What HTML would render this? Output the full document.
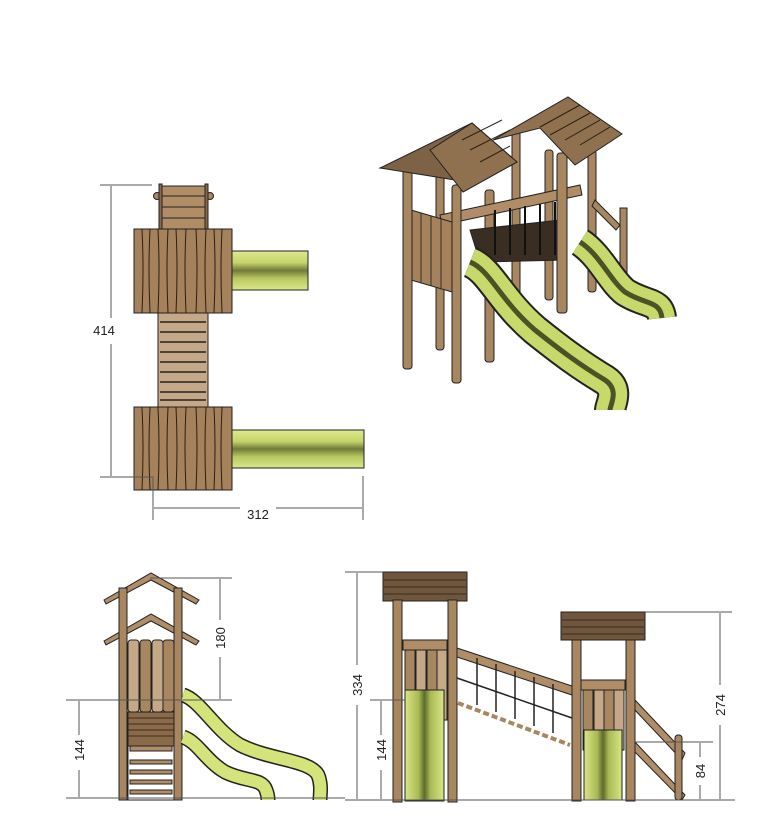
<!DOCTYPE html>
<html><head><meta charset="utf-8"><style>
html,body{margin:0;padding:0;background:#fff;}
svg{display:block;font-family:"Liberation Sans",sans-serif;}
</style></head><body>
<svg width="781" height="830" viewBox="0 0 781 830" xmlns="http://www.w3.org/2000/svg">
<defs>
<linearGradient id="sg" x1="0" y1="0" x2="0" y2="1">
<stop offset="0" stop-color="#dfe98f"/><stop offset="0.3" stop-color="#c4d46a"/><stop offset="0.5" stop-color="#6f7a3a"/><stop offset="0.7" stop-color="#b7c860"/><stop offset="1" stop-color="#dbe78a"/></linearGradient>
<linearGradient id="sv" x1="0" y1="0" x2="1" y2="0">
<stop offset="0" stop-color="#d8e684"/><stop offset="0.35" stop-color="#a9ba55"/><stop offset="0.5" stop-color="#5d6a2c"/><stop offset="0.65" stop-color="#a9ba55"/><stop offset="1" stop-color="#d8e684"/></linearGradient>
</defs>
<g stroke="#222" stroke-width="1">
<!-- ===== TOP VIEW ===== -->
<rect x="160" y="186" width="47" height="44" fill="#b08d66"/>
<line x1="160" y1="196" x2="207" y2="196"/><line x1="160" y1="207" x2="207" y2="207"/><line x1="160" y1="218" x2="207" y2="218"/>
<circle cx="157" cy="196" r="3.5" fill="#a88660"/><circle cx="210" cy="196" r="3.5" fill="#a88660"/>
<rect x="159" y="184" width="3" height="46" fill="#8a6a48"/><rect x="205" y="184" width="3" height="46" fill="#8a6a48"/>
<rect x="134" y="229" width="98" height="84" fill="#a5825c"/>
<rect x="232" y="251" width="76" height="39" fill="url(#sg)"/>
<rect x="158" y="313" width="50" height="94" fill="#c4a887"/>
<g stroke-width="1.5">
<line x1="160" y1="322" x2="206" y2="322"/><line x1="160" y1="332" x2="206" y2="332"/><line x1="160" y1="342" x2="206" y2="342"/><line x1="160" y1="352" x2="206" y2="352"/><line x1="160" y1="362" x2="206" y2="362"/><line x1="160" y1="372" x2="206" y2="372"/><line x1="160" y1="382" x2="206" y2="382"/><line x1="160" y1="392" x2="206" y2="392"/><line x1="160" y1="400" x2="206" y2="400"/>
</g>
<rect x="134" y="407" width="98" height="83" fill="#a5825c"/>
<rect x="232" y="430" width="132" height="38" fill="url(#sg)"/>
<g fill="none" stroke="#2a1f14">
<path d="M142 229 q2 40 0 84 M150 229 q-2 40 0 84 M158 229 q2 40 0 84 M168 229 q-2 40 0 84 M176 229 q2 40 0 84 M186 229 q-2 40 0 84 M196 229 q2 40 0 84 M206 229 q-2 40 0 84 M214 229 q2 40 0 84 M222 229 q-2 40 0 84"/>
<path d="M142 407 q2 40 0 83 M150 407 q-2 40 0 83 M158 407 q2 40 0 83 M168 407 q-2 40 0 83 M176 407 q2 40 0 83 M186 407 q-2 40 0 83 M196 407 q2 40 0 83 M206 407 q-2 40 0 83 M214 407 q2 40 0 83 M222 407 q-2 40 0 83"/>
</g>
</g>
<g stroke="#555" stroke-width="1" fill="none">
<line x1="100" y1="185" x2="152" y2="185"/><line x1="100" y1="477" x2="152" y2="477"/>
<line x1="111" y1="186" x2="111" y2="318"/><line x1="111" y1="344" x2="111" y2="476"/>
<line x1="153" y1="476" x2="153" y2="520"/><line x1="363" y1="476" x2="363" y2="520"/>
<line x1="154" y1="508" x2="240" y2="508"/><line x1="276" y1="508" x2="362" y2="508"/>
</g>
<text x="104" y="335" font-size="13" text-anchor="middle" fill="#222">414</text>
<text x="258" y="519" font-size="13" text-anchor="middle" fill="#222">312</text>

<!-- ===== ISO VIEW ===== -->
<g stroke="#222" stroke-width="1">
<!-- back posts -->
<rect x="436" y="175" width="8" height="175" rx="3" fill="#a88660"/>
<rect x="485" y="190" width="9" height="172" rx="3" fill="#a88660"/>
<rect x="512" y="130" width="8" height="170" rx="3" fill="#a88660"/>
<rect x="588" y="150" width="8" height="142" rx="3" fill="#a88660"/>
<rect x="545" y="150" width="8" height="150" rx="3" fill="#a88660"/>
<!-- rails / bridge -->
<polygon points="440,215 580,185 582,195 442,225" fill="#b08d66"/>
<polygon points="470,230 560,220 565,260 480,262" fill="#3a2e22"/>
<g stroke="#111" stroke-width="2"><line x1="495" y1="210" x2="495" y2="255"/><line x1="510" y1="208" x2="510" y2="255"/><line x1="525" y1="206" x2="525" y2="255"/><line x1="540" y1="204" x2="540" y2="255"/><line x1="555" y1="202" x2="555" y2="255"/></g>
<polygon points="595,200 620,225 616,230 592,206" fill="#a88660"/>
<rect x="620" y="208" width="7" height="70" fill="#a88660"/>
<!-- left panel -->
<polygon points="411,210 452,222 452,292 411,280" fill="#a5825c"/>
<g stroke="#3a2e22"><line x1="421" y1="213" x2="421" y2="283"/><line x1="431" y1="216" x2="431" y2="286"/><line x1="441" y1="219" x2="441" y2="289"/></g>
<!-- front posts -->
<rect x="403" y="162" width="9" height="207" rx="3" fill="#a88660"/>
<rect x="452" y="185" width="9" height="198" rx="3" fill="#a88660"/>
<rect x="557" y="153" width="10" height="160" rx="3" fill="#a88660"/>
<!-- roofs -->
<polygon points="380,168 472,123 517,162 463,192 455,180" fill="#7d6245"/>
<polygon points="472,123 517,162 463,192 430,150" fill="#8f7150"/>
<polygon points="493,140 568,97 622,134 575,165 540,128" fill="#8f7150"/>
<g stroke="#2a1f14" fill="none"><path d="M462 140 l40 -20 M470 150 l40 -20 M480 162 l30 -16 M580 105 l-40 22 M590 113 l-40 22 M600 120 l-35 20 M610 127 l-30 18"/></g>
</g>
<!-- slides iso -->
<g fill="none" stroke-linecap="butt">
<path d="M470 262 C490 270 500 300 535 330 C560 350 580 365 605 380 C620 390 610 405 610 410" stroke="#222" stroke-width="32"/>
<path d="M470 262 C490 270 500 300 535 330 C560 350 580 365 605 380 C620 390 610 405 610 410" stroke="#c6d96a" stroke-width="28"/>
<path d="M470 262 C490 270 500 300 535 330 C560 350 580 365 605 380 C620 390 610 405 610 410" stroke="#4a5226" stroke-width="5"/>
<path d="M580 242 C600 255 610 280 625 292 C645 305 660 300 662 318" stroke="#222" stroke-width="30"/>
<path d="M580 242 C600 255 610 280 625 292 C645 305 660 300 662 318" stroke="#c6d96a" stroke-width="26"/>
<path d="M580 242 C600 255 610 280 625 292 C645 305 660 300 662 318" stroke="#4a5226" stroke-width="5"/>
</g>

<!-- ===== BOTTOM-LEFT VIEW ===== -->
<g stroke="#222" stroke-width="1">
<path d="M104 600 L151 573 L199 600 L196 604 L151 580 L106 604 Z" fill="#b08d66"/>
<path d="M104 641 L151 614 L199 641 L196 645 L151 621 L106 645 Z" fill="#b08d66"/>
<rect x="128" y="640" width="11" height="72" rx="3" fill="#c4a887"/><rect x="140" y="640" width="11" height="72" rx="3" fill="#a88660"/><rect x="152" y="640" width="11" height="72" rx="3" fill="#c4a887"/><rect x="163" y="640" width="11" height="72" rx="3" fill="#a88660"/>
<rect x="128" y="712" width="46" height="88" fill="#fff"/>
<rect x="128" y="712" width="46" height="34" fill="#8a6a48"/>
<g stroke="#3a2e22"><line x1="128" y1="718" x2="174" y2="718"/><line x1="128" y1="724" x2="174" y2="724"/><line x1="128" y1="730" x2="174" y2="730"/><line x1="128" y1="736" x2="174" y2="736"/></g>
<rect x="130" y="746" width="42" height="5" fill="#b08d66"/><rect x="130" y="760" width="42" height="4" fill="#b08d66"/><rect x="130" y="770" width="42" height="4" fill="#b08d66"/><rect x="130" y="780" width="42" height="4" fill="#b08d66"/><rect x="130" y="790" width="42" height="4" fill="#b08d66"/>
<rect x="119" y="588" width="8" height="212" fill="#a88660"/>
<rect x="174" y="588" width="8" height="212" fill="#a88660"/>
</g>
<g fill="none">
<path d="M183 695 C200 700 215 730 240 745 C270 760 310 760 318 775 C322 785 320 795 320 800" stroke="#222" stroke-width="15"/>
<path d="M183 695 C200 700 215 730 240 745 C270 760 310 760 318 775 C322 785 320 795 320 800" stroke="#d5e47a" stroke-width="12"/>
<path d="M183 737 C198 742 205 760 225 772 C245 782 262 778 266 790 C268 795 268 800 268 800" stroke="#222" stroke-width="15"/>
<path d="M183 737 C198 742 205 760 225 772 C245 782 262 778 266 790 C268 795 268 800 268 800" stroke="#d5e47a" stroke-width="12"/>
</g>
<g stroke="#555" stroke-width="1" fill="none">
<line x1="150" y1="578" x2="232" y2="578"/><line x1="66" y1="700" x2="232" y2="700"/><line x1="66" y1="798" x2="345" y2="798"/>
<line x1="220" y1="579" x2="220" y2="620"/><line x1="220" y1="657" x2="220" y2="699"/>
<line x1="79" y1="701" x2="79" y2="735"/><line x1="79" y1="770" x2="79" y2="797"/>
</g>
<text transform="translate(225,638) rotate(-90)" font-size="13" text-anchor="middle" fill="#222">180</text>
<text transform="translate(84,750) rotate(-90)" font-size="13" text-anchor="middle" fill="#222">144</text>

<!-- ===== BOTTOM-RIGHT VIEW ===== -->
<g stroke="#222" stroke-width="1">
<!-- bridge -->
<polygon points="457,648 572,686 572,695 457,657" fill="#b08d66"/>
<g stroke="#222" stroke-width="1.5" fill="none">
<line x1="457" y1="678" x2="572" y2="718"/>
<line x1="477" y1="658" x2="477" y2="705"/><line x1="496" y1="664" x2="496" y2="712"/><line x1="515" y1="671" x2="515" y2="719"/><line x1="534" y1="677" x2="534" y2="726"/><line x1="553" y1="684" x2="553" y2="733"/>
</g>
<path d="M458 703 L570 745" stroke="#a88660" stroke-width="4" stroke-dasharray="6,3"/>
<!-- left tower -->
<rect x="383" y="572" width="84" height="29" fill="#6f563c"/>
<g stroke="#3a2e22"><line x1="384" y1="580" x2="466" y2="580"/><line x1="384" y1="587" x2="466" y2="587"/><line x1="384" y1="594" x2="466" y2="594"/></g>
<rect x="403" y="640" width="44" height="10" fill="#b08d66"/>
<rect x="405" y="650" width="10" height="70" fill="#a88660"/><rect x="416" y="650" width="10" height="70" fill="#c4a887"/><rect x="427" y="650" width="10" height="70" fill="#a88660"/><rect x="437" y="650" width="10" height="70" fill="#c4a887"/>
<rect x="405" y="690" width="39" height="111" fill="url(#sv)"/>
<rect x="393" y="600" width="9" height="202" fill="#a88660"/><rect x="448" y="600" width="9" height="202" fill="#a88660"/>
<!-- right tower -->
<rect x="561" y="612" width="84" height="28" fill="#6f563c"/>
<g stroke="#3a2e22"><line x1="562" y1="620" x2="644" y2="620"/><line x1="562" y1="627" x2="644" y2="627"/><line x1="562" y1="634" x2="644" y2="634"/></g>
<rect x="581" y="680" width="44" height="10" fill="#b08d66"/>
<rect x="583" y="690" width="10" height="60" fill="#a88660"/><rect x="594" y="690" width="10" height="60" fill="#c4a887"/><rect x="604" y="690" width="10" height="60" fill="#a88660"/><rect x="614" y="690" width="10" height="60" fill="#c4a887"/>
<rect x="584" y="730" width="38" height="70" fill="url(#sv)"/>
<!-- stairs -->
<polygon points="635,700 685,753 682,760 633,708" fill="#b08d66"/>
<polygon points="635,742 685,795 682,800 633,750" fill="#b08d66"/>
<rect x="675" y="735" width="7" height="65" rx="3" fill="#a88660"/>
<rect x="572" y="640" width="9" height="161" fill="#a88660"/><rect x="626" y="640" width="9" height="161" fill="#a88660"/>
</g>
<g stroke="#555" stroke-width="1" fill="none">
<line x1="345" y1="572" x2="383" y2="572"/><line x1="645" y1="612" x2="732" y2="612"/>
<line x1="370" y1="700" x2="405" y2="700"/><line x1="635" y1="742" x2="713" y2="742"/>
<line x1="345" y1="800" x2="735" y2="800"/>
<line x1="357" y1="573" x2="357" y2="665"/><line x1="357" y1="705" x2="357" y2="799"/>
<line x1="381" y1="701" x2="381" y2="735"/><line x1="381" y1="770" x2="381" y2="799"/>
<line x1="720" y1="613" x2="720" y2="685"/><line x1="720" y1="725" x2="720" y2="799"/>
<line x1="700" y1="743" x2="700" y2="757"/><line x1="700" y1="785" x2="700" y2="799"/>
</g>
<text transform="translate(362,685) rotate(-90)" font-size="13" text-anchor="middle" fill="#222">334</text>
<text transform="translate(386,750) rotate(-90)" font-size="13" text-anchor="middle" fill="#222">144</text>
<text transform="translate(725,705) rotate(-90)" font-size="13" text-anchor="middle" fill="#222">274</text>
<text transform="translate(705,771) rotate(-90)" font-size="13" text-anchor="middle" fill="#222">84</text>
</svg>
</body></html>
